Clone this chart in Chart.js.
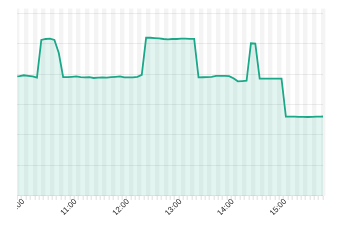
<!DOCTYPE html>
<html><head><meta charset="utf-8">
<script src="https://cdn.jsdelivr.net/npm/chart.js@4/dist/chart.umd.min.js"></script>
<style>
html,body{margin:0;padding:0;background:#fff;overflow:hidden}
#wrap{position:relative;width:340px;height:251px}
</style></head>
<body><div id="wrap"><canvas id="c"></canvas></div>
<script>
// sample times (HH:MM:SS), one reading every 5 minutes
const sampleTimes = [
 "09:57:30","10:02:30","10:07:30","10:12:30","10:17:30","10:22:30","10:27:30","10:32:30","10:37:30","10:42:30",
 "10:47:30","10:52:30","10:57:30","11:02:30","11:07:30","11:12:30","11:17:30","11:22:30","11:27:30","11:32:30",
 "11:37:30","11:42:30","11:47:30","11:52:30","11:57:30","12:02:30","12:07:30","12:12:30","12:17:30","12:22:30",
 "12:27:30","12:32:30","12:37:30","12:42:30","12:47:30","12:52:30","12:57:30","13:02:30","13:07:30","13:12:30",
 "13:17:30","13:22:30","13:27:30","13:32:30","13:37:30","13:42:30","13:47:30","13:52:30","13:57:30","14:02:30",
 "14:07:30","14:12:30","14:17:30","14:22:30","14:27:30","14:32:30","14:37:30","14:42:30","14:47:30","14:52:30",
 "14:57:30","15:02:30","15:07:30","15:12:30","15:17:30","15:22:30","15:27:30","15:32:30","15:37:30","15:42:30",
 "15:47:30","15:52:30"
];
const sampleValues = [
 39.15,39.3,39.6,39.4,39.2,38.8,51.2,51.5,51.6,51.2,
 46.9,39.0,39.0,39.1,39.2,39.0,38.9,39.0,38.7,38.85,
 38.9,38.85,39.0,39.1,39.2,38.9,38.9,38.9,39.1,39.7,
 51.9,51.9,51.8,51.7,51.5,51.4,51.5,51.5,51.6,51.6,
 51.55,51.55,38.9,38.95,39.0,39.1,39.4,39.4,39.4,39.3,
 38.6,37.6,37.7,37.8,50.1,50.0,38.5,38.5,38.5,38.5,
 38.5,38.5,26.0,26.0,26.0,25.95,25.95,25.9,25.95,26.0,
 26.05,26.1
];
const axisStart = "10:00";
const axisEnd = "15:50";
const hourLabels = ["10:00","11:00","12:00","13:00","14:00","15:00"];

const toMin = s => { const p = s.split(':').map(Number); return (p[0]-10)*60 + p[1] + (p[2]||0)/60; };
const pts = sampleTimes.map((t,i)=>({x: toMin(t), y: sampleValues[i]}));

// white panel covering the area left of the plot (hides the start of the first label)
const leftMask = {
  id:'leftMask',
  afterDraw(chart){
    const ctx = chart.ctx, a = chart.chartArea;
    ctx.save(); ctx.fillStyle = '#fff';
    ctx.fillRect(0,0,Math.floor(a.left),chart.height);
    ctx.restore();
  }
};

new Chart(document.getElementById('c'), {
  type: 'line',
  data: { datasets: [{
    data: pts,
    borderColor: '#1aa888',
    backgroundColor: 'rgba(27,169,138,0.12)',
    borderWidth: 1.8,
    pointRadius: 0,
    tension: 0,
    fill: 'origin',
    clip: 0
  }]},
  options: {
    responsive: true, maintainAspectRatio: false, animation: false,
    layout: { padding: { left: 17.3, right: 17, top: 8.5, bottom: 36.1 } },
    plugins: { legend: {display:false}, tooltip: {enabled:false} },
    scales: {
      x: {
        type: 'linear', min: toMin(axisStart), max: toMin(axisEnd),
        border: { display: false },
        grid: {
          color: c => (c.index % 2 === 0) ? 'rgba(0,0,0,0.045)' : 'rgba(0,0,0,0)',
          lineWidth: 4.4,
          tickColor: 'rgba(0,0,0,0.13)',
          tickWidth: 1,
          tickLength: 4
        },
        ticks: {
          stepSize: 5, autoSkip: false, minRotation: 45, maxRotation: 45,
          padding: -3, labelOffset: 6,
          color: '#222', font: { family: 'Liberation Sans, Arial, sans-serif', size: 8 },
          callback: v => (v % 60 === 0) ? (hourLabels[v/60] || '') : ''
        }
      },
      y: {
        min: 0, max: 61.5,
        border: { display: false },
        grid: { color: 'rgba(0,0,0,0.07)', lineWidth: 1, drawTicks: false },
        ticks: { display: false, stepSize: 10, includeBounds: false }
      }
    }
  },
  plugins: [leftMask]
});
</script></body></html>
